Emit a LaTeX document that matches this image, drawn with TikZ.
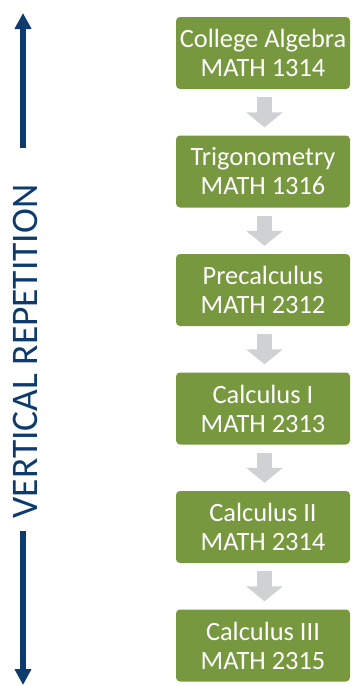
\documentclass[tikz,border=0pt]{standalone}
\usepackage{fontspec}
\setmainfont{Carlito}
\usetikzlibrary{arrows.meta}
\definecolor{boxgreen}{HTML}{77983F}
\definecolor{arrowgray}{HTML}{D0D1D3}
\definecolor{navy}{HTML}{0D3B6E}
\tikzset{
  course/.style={fill=boxgreen, rounded corners=4pt, minimum width=174pt, minimum height=72pt,
    inner sep=0pt, align=center, text=white,
    font=\fontsize{26.4pt}{29pt}\selectfont},
  flow/.style={draw=arrowgray, line width=15pt, -{Triangle[width=36pt,length=15pt]}},
  bluearrow/.style={draw=navy, line width=6pt, -{Triangle[width=16pt,length=16pt]}},
}
\begin{document}
\begin{tikzpicture}[x=1pt,y=-1pt]
\useasboundingbox (0,0) rectangle (352,686);
\node[course] (c1) at (263,53)    {College Algebra\\MATH 1314};
\node[course] (c2) at (263,171.5) {Trigonometry\\MATH 1316};
\node[course] (c3) at (263,290)   {Precalculus\\MATH 2312};
\node[course] (c4) at (263,408.5) {Calculus I\\MATH 2313};
\node[course] (c5) at (263,527)   {Calculus II\\MATH 2314};
\node[course] (c6) at (263,645.5) {Calculus III\\MATH 2315};
\foreach \a/\b in {c1/c2,c2/c3,c3/c4,c4/c5,c5/c6}
  \draw[flow] ([xshift=1.5pt,yshift=-8pt]\a.south) -- ([xshift=1.5pt,yshift=8pt]\b.north);
\node[text=navy, rotate=90, inner sep=0pt, font=\fontsize{37.5pt}{40pt}\selectfont] (lbl) at (25.5,351.5) {VERTICAL REPETITION};
\coordinate (upstart) at (23,148);
\coordinate (upend) at (23,13);
\coordinate (downstart) at (23,531);
\coordinate (downend) at (23,685);
\draw[bluearrow] (upstart) -- (upend);
\draw[bluearrow] (downstart) -- (downend);
\end{tikzpicture}
\end{document}
